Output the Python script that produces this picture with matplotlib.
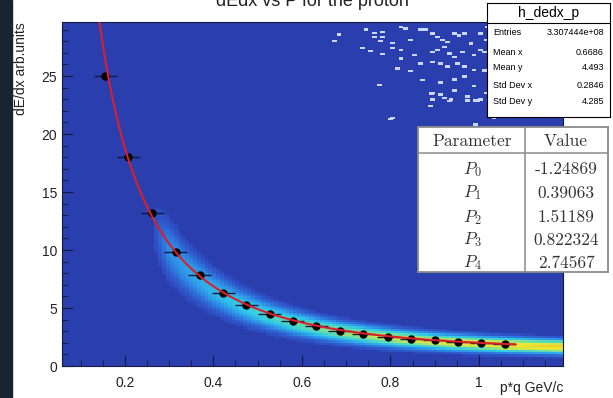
import numpy as np
import matplotlib
matplotlib.use("Agg")
import matplotlib.pyplot as plt
from matplotlib.colors import LinearSegmentedColormap
from matplotlib.patches import Rectangle
from matplotlib.ticker import MultipleLocator, FuncFormatter

plt.rcParams['font.family'] = ['Liberation Sans', 'DejaVu Sans']
plt.rcParams['mathtext.fontset'] = 'cm'

# fit parameters (shown in the table)
param_names = ["P_0", "P_1", "P_2", "P_3", "P_4"]
param_values = [-1.24869, 0.39063, 1.51189, 0.822324, 2.74567]
param_text = ["-1.24869", "0.39063", "1.51189", "0.822324", "2.74567"]

# profile points (mean dE/dx per momentum slice)
prof_p = [0.156, 0.208, 0.262, 0.315, 0.369, 0.422, 0.474, 0.527, 0.579,
          0.633, 0.686, 0.739, 0.795, 0.847, 0.900, 0.952, 1.005, 1.058]
prof_dedx = [25.0, 18.0, 13.16, 9.85, 7.82, 6.32, 5.26, 4.48, 3.88,
             3.45, 3.04, 2.76, 2.53, 2.35, 2.24, 2.04, 1.98, 1.87]
prof_xerr = 0.026

# sparse single-entry bins in the upper right
sparse_p = [0.684, 0.673, 0.745, 0.765, 0.782, 0.765, 0.782, 0.778, 0.805, 0.824,
            0.835, 0.846, 0.869, 0.880, 0.895, 0.907, 0.918, 0.929, 0.944, 0.955,
            0.967, 0.982, 1.004, 0.737, 0.756, 0.782, 0.805, 0.824, 0.824, 0.854,
            0.816, 0.846, 0.869, 0.895, 0.907, 0.922, 0.933, 0.944, 0.963, 0.989,
            1.004, 0.895, 0.914, 0.929, 0.952, 0.967, 0.989, 1.012, 0.775, 0.873,
            0.914, 0.944, 0.967, 0.989, 0.944, 0.895, 0.914, 0.895, 0.922, 0.974,
            1.004, 0.891, 0.805, 1.016, 0.933, 0.993, 1.016, 1.012, 1.020, 0.892,
            0.914, 0.937, 0.975, 0.998, 0.944, 0.801, 1.034, 1.056, 1.077, 1.156,
            1.179, 0.993]
sparse_dedx = [28.6, 28.03, 29.0, 28.71, 28.8, 28.37, 28.37, 28.03, 27.86, 29.23,
               29.08, 28.09, 29.0, 29.0, 28.66, 28.37, 28.09, 27.94, 28.66, 28.51,
               28.66, 27.8, 28.66, 27.43, 27.17, 26.89, 27.43, 27.23, 26.52, 26.8,
               25.66, 25.43, 26.09, 27.09, 27.23, 27.51, 26.94, 26.66, 27.09, 26.8,
               27.23, 26.23, 26.09, 25.8, 26.09, 25.8, 25.52, 25.46, 24.23, 24.66,
               24.43, 24.72, 24.95, 24.15, 23.75, 23.52, 23.38, 23.0, 23.09, 23.23,
               23.0, 22.43, 21.38, 23.52, 22.86, 22.89, 28.09, 27.09, 29.23, 23.5,
               23.4, 23.0, 22.9, 22.9, 23.8, 21.3, 21.4, 21.8, 21.8, 21.8,
               21.8, 20.8]

stats_labels = ["Entries", "Mean x", "Mean y", "Std Dev x", "Std Dev y"]
stats_values = ["3.307444e+08", "0.6686", "4.493", "0.2846", "4.285"]

# band brightness along momentum
band_p = [0.0, 0.255, 0.30, 1.2]
band_amp = [0.0, 0.0, 1.0, 1.0]


def aleph(p):
    bg = p / 0.938272
    b = bg / np.sqrt(1 + bg ** 2)
    P0, P1, P2, P3, P4 = param_values
    return P0 / b ** P3 * (P1 - b ** P3 - np.log(P2 + 1 / bg ** P4))


fig = plt.figure(figsize=(6.13, 3.98), dpi=100)
fig.patches.append(Rectangle((0, 0), 12 / 613, 1, transform=fig.transFigure,
                             color='#1b2230', zorder=0))

ax = fig.add_axes([62 / 613, 1 - 366 / 398, 501 / 613, 344 / 398])
bg_blue = '#2a3eae'
ax.set_facecolor(bg_blue)

# 2D histogram band
xe = np.linspace(0.058, 1.19, 131)
ye = np.linspace(0, 29.66, 149)
xc = 0.5 * (xe[1:] + xe[:-1])
yc = 0.5 * (ye[1:] + ye[:-1])
X, Y = np.meshgrid(xc, yc)
mu = 0.95 * aleph(X)
sig = 0.13 * aleph(X) + 0.16
dens = np.interp(X, band_p, band_amp) * np.exp(-0.5 * ((Y - mu) / sig) ** 2) / sig
dens = dens / dens.max()
dens = np.ma.masked_less(dens, 0.04)

cmap = LinearSegmentedColormap.from_list('rootjet', [
    (0.0, bg_blue), (0.08, '#2f58cc'), (0.2, '#2e8ce6'), (0.35, '#2ec8e8'),
    (0.5, '#60dcb0'), (0.65, '#c8e850'), (0.8, '#f5e62a'), (1.0, '#e85a20')])
ax.pcolormesh(xe, ye, dens, cmap=cmap, vmin=0, vmax=1.2, zorder=1)

ax.bar(sparse_p, 0.22, width=0.011, bottom=np.array(sparse_dedx) - 0.11,
       color='#c8d6ff', zorder=1.5)

ax.errorbar(prof_p, prof_dedx, xerr=prof_xerr, fmt='o', color='black',
            ecolor='#141a40', elinewidth=1, ms=5, zorder=3)

pf = np.linspace(0.1, 1.082, 400)
ax.plot(pf, aleph(pf), color='#d8202c', lw=1.5, zorder=4)

ax.set_xlim(0.058, 1.19)
ax.set_ylim(0, 29.66)
ax.xaxis.set_major_locator(MultipleLocator(0.2))
ax.xaxis.set_minor_locator(MultipleLocator(0.05))
ax.yaxis.set_major_locator(MultipleLocator(5))
ax.yaxis.set_minor_locator(MultipleLocator(1))
ax.xaxis.set_major_formatter(FuncFormatter(lambda v, _: f'{v:g}'))
ax.tick_params(which='both', direction='in', color='#141a40', labelsize=10,
               labelcolor='#222222')
ax.tick_params(axis='x', which='both', pad=7)
ax.tick_params(which='major', length=8)
ax.tick_params(which='minor', length=4)
for s in ax.spines.values():
    s.set_color('#141a40')

fig.text(563 / 613, 1 - 388 / 398, 'p*q GeV/c', ha='right', va='center',
         fontsize=10, color='#222222')
ax.set_ylabel('dE/dx arb.units', fontsize=10, color='#222222', loc='top', labelpad=10)

fig.text(0.51, 1 - 6 / 398, 'dEdx vs P for the proton', ha='center',
         va='baseline', fontsize=13, color='#222222')

# stats box
sb = fig.add_axes([487 / 613, 1 - 117 / 398, 123 / 613, 114 / 398])
sb.set_xticks([])
sb.set_yticks([])
sb.set_xlim(0, 1)
sb.set_ylim(0, 1)
sb.axhline(0.825, color='black', lw=0.8)
for s in sb.spines.values():
    s.set_linewidth(0.8)
sb.text(0.5, 0.91, 'h_dedx_p', ha='center', va='center', fontsize=10)
row_y = [0.737, 0.570, 0.430, 0.272, 0.132]
for lab, val, yy in zip(stats_labels, stats_values, row_y):
    sb.text(0.05, yy, lab, ha='left', va='center', fontsize=6.5)
    sb.text(0.95, yy, val, ha='right', va='center', fontsize=6.5)

# parameter table
tb = fig.add_axes([418 / 613, 1 - 272 / 398, 190 / 613, 145 / 398])
tb.set_xticks([])
tb.set_yticks([])
tb.set_xlim(0, 1)
tb.set_ylim(0, 1)
for s in tb.spines.values():
    s.set_color('#8a8a8a')
    s.set_linewidth(1.3)
tb.axhline(0.821, color='#8a8a8a', lw=1.1)
tb.axvline(0.563, color='#8a8a8a', lw=1.1)
tb.text(0.284, 0.903, 'Parameter', ha='center', va='center', fontsize=12.5,
        color='#333333', family='cmr10')
tb.text(0.779, 0.903, 'Value', ha='center', va='center', fontsize=12.5,
        color='#333333', family='cmr10')
tab_y = [0.710, 0.545, 0.379, 0.221, 0.062]
for name, val, yy in zip(param_names, param_text, tab_y):
    tb.text(0.284, yy, f'${name}$', ha='center', va='center', fontsize=12.5, color='#333333')
    tb.text(0.779, yy, val, ha='center', va='center', fontsize=12.5,
            color='#333333', family='cmr10')

fig.savefig('out.png', dpi=100)
